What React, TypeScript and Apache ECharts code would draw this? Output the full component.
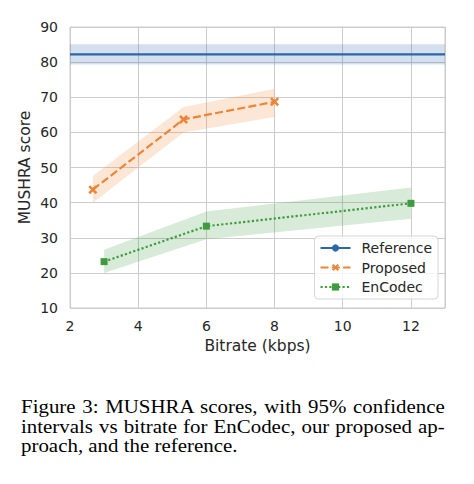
import React, { useEffect, useRef } from "react";
import * as echarts from "echarts";

// Values
const refX = [2, 13];
const refY = [82.2, 82.2];
const refLo = [79.3, 79.3];
const refHi = [85.1, 85.1];

const propX = [2.67, 5.33, 8];
const propY = [43.7, 63.7, 68.7];
const propLo = [40.0, 60.0, 64.4];
const propHi = [47.6, 67.2, 72.4];

const encX = [3, 6, 12];
const encY = [23.2, 33.3, 39.8];
const encLo = [20.0, 29.6, 35.4];
const encHi = [26.6, 37.5, 44.3];

const seriesNames = ["Reference", "Proposed", "EnCodec"];
const colors = ["#2c66a8", "#ee8536", "#3e9b3e"];
const bandColors = ["rgba(44,102,168,0.2)", "rgba(238,133,54,0.2)", "rgba(62,155,62,0.2)"];

const xTicks = { min: 2, max: 13, interval: 2 };
const yTicks = { min: 10, max: 90, interval: 10 };

const textColor = "#262626";
const gridColor = "#cccccc";
const font = "DejaVu Sans";

const X_MARK = "path://M2,0 L5,3 L8,0 L10,2 L7,5 L10,8 L8,10 L5,7 L2,10 L0,8 L3,5 L0,2 Z";

// confidence band drawn as one polygon through the axis scales
const band = (name: string, xs: number[], lo: number[], hi: number[], color: string) => ({
  name: name + " CI",
  type: "custom",
  silent: true,
  z: 1,
  data: xs.map((x, i) => [x, lo[i], hi[i]]),
  renderItem: (params: any, api: any) => {
    if (params.dataIndex !== 0) return null;
    const upper = xs.map((x, i) => api.coord([x, hi[i]]));
    const lower = xs.map((x, i) => api.coord([x, lo[i]])).reverse();
    return {
      type: "polygon",
      shape: { points: upper.concat(lower) },
      style: { fill: color, stroke: "none" },
    };
  },
});

const MushraChart: React.FC = () => {
  const chartRef = useRef<HTMLDivElement>(null);

  useEffect(() => {
    if (!chartRef.current) return;
    const chart = echarts.init(chartRef.current, null, { renderer: "svg" });

    const option: any = {
      animation: false,
      backgroundColor: "#ffffff",
      textStyle: { fontFamily: font, color: textColor },
      grid: {
        left: 70,
        top: 27,
        width: 375,
        height: 281,
        show: true,
        borderColor: gridColor,
        borderWidth: 1,
      },
      legend: {
        data: seriesNames,
        orient: "vertical",
        right: 36,
        top: 236,
        itemWidth: 30,
        itemHeight: 9,
        itemGap: 5.5,
        padding: [5, 6, 5, 5],
        backgroundColor: "rgba(255,255,255,0.8)",
        borderColor: "#d6d6d6",
        borderWidth: 1,
        borderRadius: 4,
        textStyle: { fontFamily: font, fontSize: 14, color: textColor, padding: [0, 0, 0, 6] },
      },
      xAxis: {
        type: "value",
        ...xTicks,
        name: "Bitrate (kbps)",
        nameLocation: "middle",
        nameGap: 30,
        nameMoveOverlap: false,
        nameTextStyle: { fontFamily: font, fontSize: 15.5, color: textColor },
        axisLine: { show: false },
        axisTick: { show: false },
        axisLabel: { fontFamily: font, fontSize: 14, color: textColor, margin: 11, showMaxLabel: false },
        splitLine: { show: true, lineStyle: { color: gridColor, width: 1 } },
      },
      yAxis: {
        type: "value",
        ...yTicks,
        name: "MUSHRA score",
        nameLocation: "middle",
        nameGap: 37,
        nameMoveOverlap: false,
        nameTextStyle: { fontFamily: font, fontSize: 15.5, color: textColor },
        axisLine: { show: false },
        axisTick: { show: false },
        axisLabel: { fontFamily: font, fontSize: 14, color: textColor, margin: 12 },
        splitLine: { show: true, lineStyle: { color: gridColor, width: 1 } },
      },
      series: [
        band("Reference", refX, refLo, refHi, bandColors[0]),
        band("Proposed", propX, propLo, propHi, bandColors[1]),
        band("EnCodec", encX, encLo, encHi, bandColors[2]),
        {
          name: "Reference",
          type: "line",
          z: 3,
          data: refX.map((x, i) => [x, refY[i]]),
          symbol: "circle",
          symbolSize: 8,
          showSymbol: false,
          color: colors[0],
          lineStyle: { color: colors[0], width: 2.2 },
        },
        {
          name: "Proposed",
          type: "line",
          z: 3,
          data: propX.map((x, i) => [x, propY[i]]),
          symbol: X_MARK,
          symbolSize: 9,
          color: colors[1],
          itemStyle: { color: colors[1] },
          lineStyle: { color: colors[1], width: 2.2, type: [8, 3.3] },
        },
        {
          name: "EnCodec",
          type: "line",
          z: 3,
          data: encX.map((x, i) => [x, encY[i]]),
          symbol: "rect",
          symbolSize: 7,
          color: colors[2],
          itemStyle: { color: colors[2] },
          lineStyle: { color: colors[2], width: 2.2, type: [2.2, 2.2] },
        },
      ],
    };

    chart.setOption(option);
    return () => chart.dispose();
  }, []);

  return <div ref={chartRef} style={{ width: 474, height: 370 }} />;
};

const justified: React.CSSProperties = { textAlign: "justify", textAlignLast: "justify", whiteSpace: "nowrap" };

// the caption in the source image is stretched horizontally, hence the scaleX
const App: React.FC = () => (
  <div style={{ position: "absolute", left: 0, top: 0, width: 474, height: 484, background: "#fff" }}>
    <MushraChart />
    <div
      style={{
        position: "absolute",
        left: 21,
        top: 398,
        width: 375,
        transform: "scaleX(1.13)",
        transformOrigin: "0 0",
        fontFamily: "'Liberation Serif', 'Times New Roman', serif",
        fontSize: 18.5,
        lineHeight: "19.5px",
        color: "#000",
      }}
    >
      <div style={justified}>Figure 3: MUSHRA scores, with 95% confidence</div>
      <div style={justified}>intervals vs bitrate for EnCodec, our proposed ap-</div>
      <div>proach, and the reference.</div>
    </div>
  </div>
);

export default App;
